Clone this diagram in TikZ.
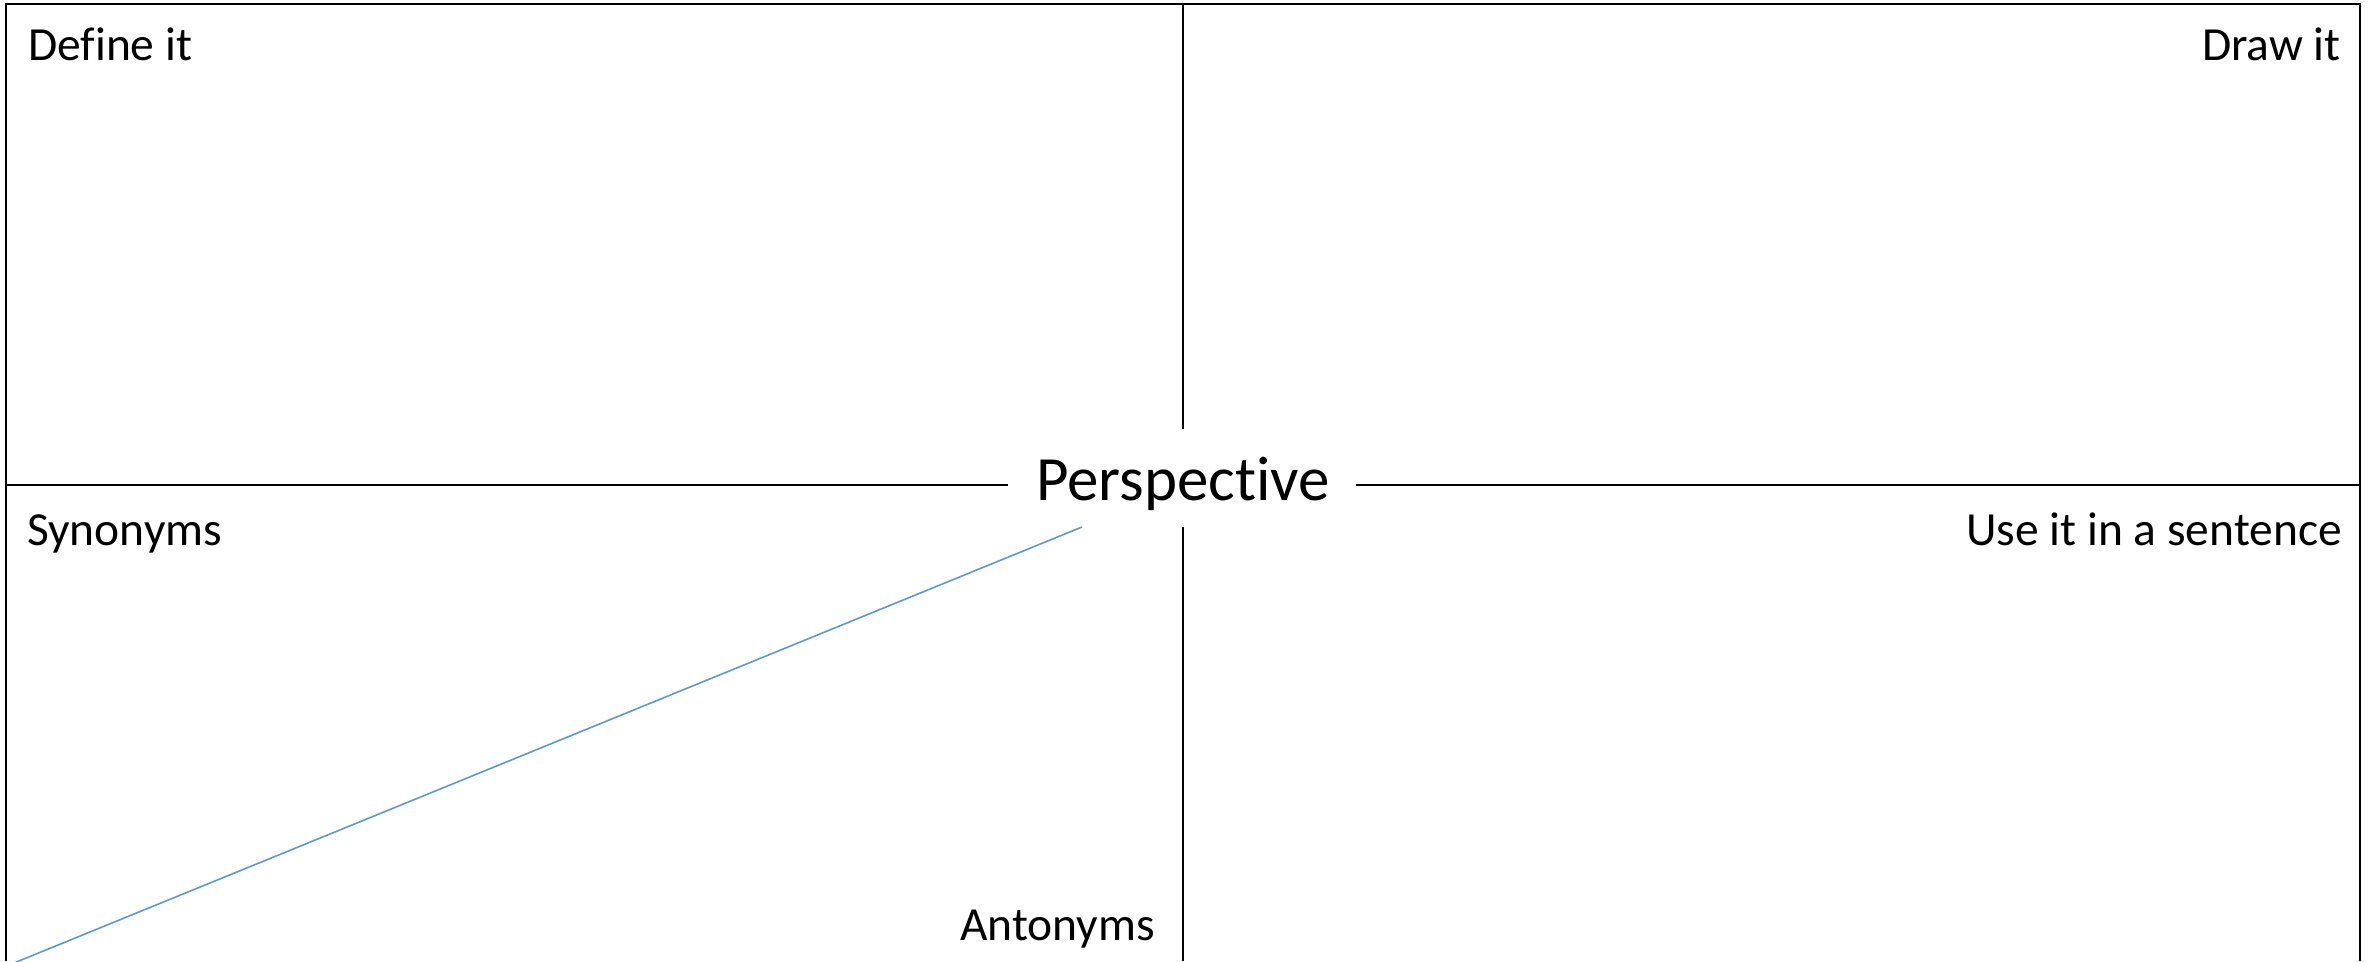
\documentclass[tikz,border=0pt]{standalone}
\usepackage{fontspec}
\setmainfont{Carlito}[Ligatures=NoCommon]
\begin{document}
\begin{tikzpicture}[x=1pt,y=-1pt,
  frame/.style={draw=black,line width=2.4pt},
  lbl/.style={inner sep=0pt,font=\fontsize{47.5}{56}\selectfont},
  title/.style={inner sep=0pt,font=\fontsize{63}{75}\selectfont},
  diag/.style={draw={rgb,255:red,91;green,155;blue,213},line width=1.6pt}]
\useasboundingbox (0,0) rectangle (2374,961);
% frame corners
\coordinate (tl) at (6,4);
\coordinate (tr) at (2360,4);
\coordinate (bl) at (6,961);
\coordinate (br) at (2360,961);
\coordinate (ml) at (6,485);
\coordinate (mr) at (2360,485);
\coordinate (tc) at (1183,4);
\coordinate (bc) at (1183,961);
% gap ends around title
\coordinate (gl) at (1008,485);
\coordinate (gr) at (1356,485);
\coordinate (gt) at (1183,429);
\coordinate (gb) at (1183,527);
\draw[frame] (bl) -- (tl) -- (tr) -- (br);
\draw[frame] (ml) -- (gl);
\draw[frame] (gr) -- (mr);
\draw[frame] (tc) -- (gt);
\draw[frame] (gb) -- (bc);
% title
\node[title,anchor=base] (persp) at (1183,500) {Perspective};
% labels
\node[lbl,anchor=base west] (define) at (28,60) {Define it};
\node[lbl,anchor=base east] (draw) at (2341,60) {Draw it};
\node[lbl,anchor=base west] (syn) at (27,545) {Synonyms};
\node[lbl,anchor=base east] (use) at (2342,545) {Use it in a sentence};
\node[lbl,anchor=base east] (ant) at (1155,940) {Antonyms};
% blue diagonal
\coordinate (d1) at (1082,527);
\coordinate (d2) at (14,963);
\draw[diag] (d1) -- (d2);
\end{tikzpicture}
\end{document}
